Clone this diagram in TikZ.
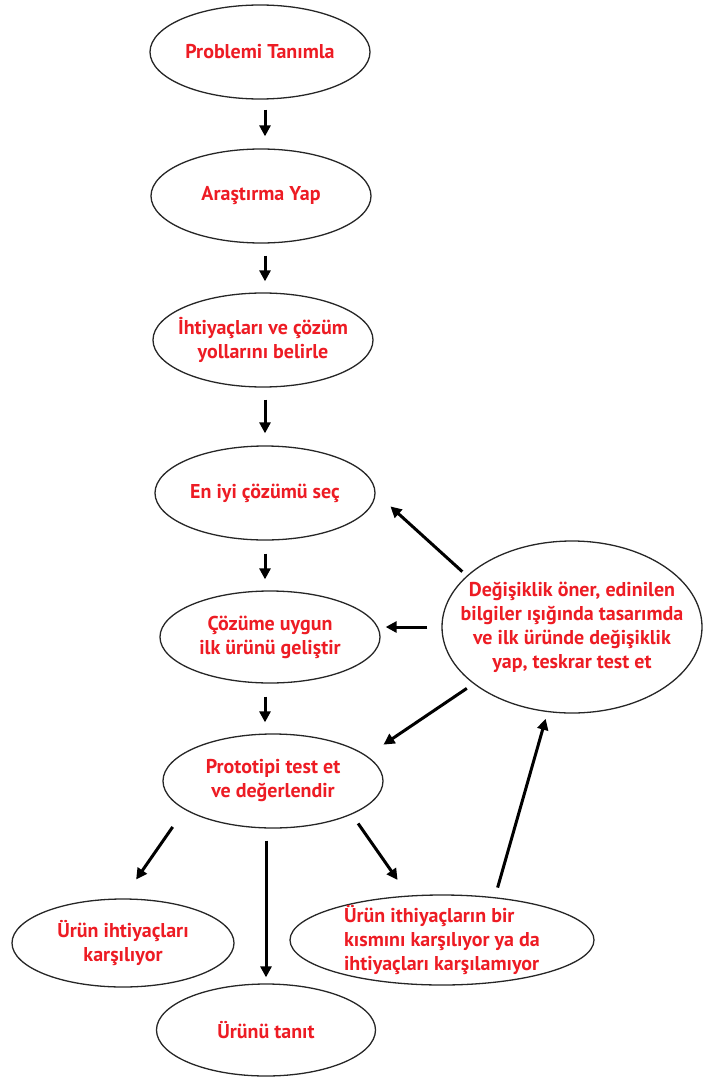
\documentclass[tikz,border=0pt]{standalone}
\usepackage{fontspec}
\setmainfont{PT Sans}
\usetikzlibrary{shapes.geometric,arrows.meta}
\definecolor{txtred}{RGB}{237,28,36}
\tikzset{
  bub/.style={draw=black!85, line width=1.3pt, ellipse, inner xsep=-14pt, inner ysep=-8pt,
    minimum width=220pt, minimum height=94pt, text=txtred, align=center,
    font=\fontsize{20}{24}\selectfont\bfseries},
  arr/.style={line width=3pt, -{Triangle[length=11pt,width=11pt]}},
}
\begin{document}
\begin{tikzpicture}[x=1pt,y=-1pt]
\useasboundingbox (0,0) rectangle (707,1078);
\node[bub] (p1) at (260,52) {Problemi Tanımla};
\node[bub] (p2) at (261,196) {Araştırma Yap};
\node[bub] (p3) at (263,340) {İhtiyaçları ve çözüm\\yollarını belirle};
\node[bub] (best) at (265,493) {En iyi çözümü seç};
\node[bub, minimum height=92pt] (coz) at (270,637) {Çözüme uygun\\ilk ürünü geliştir};
\node[bub] (proto) at (273,781) {Prototipi test et\\ve değerlendir};
\node[bub, inner xsep=-28pt, minimum width=260pt, minimum height=172pt] (dg) at (572,627)
  {Değişiklik öner, edinilen\\bilgiler ışığında tasarımda\\ve ilk üründe değişiklik\\yap, teskrar test et};
\node[bub, minimum width=222pt, minimum height=88pt] (uih) at (123,943) {Ürün ihtiyaçları\\karşılıyor};
\node[bub, minimum width=219pt, minimum height=92pt] (tanit) at (266,1030) {Ürünü tanıt};
\node[bub, minimum width=304pt, minimum height=90pt, align=left] (rih) at (442,940)
  {Ürün ithiyaçların bir\\kısmını karşılıyor ya da\\ihtiyaçları karşılamıyor};

\draw[arr, shorten <=10pt, shorten >=12pt] (p1.south -| best.south) -- (p2.north -| best.south);
\draw[arr, shorten <=12pt, shorten >=11pt] (p2.south -| best.south) -- (p3.north -| best.south);
\draw[arr, shorten <=12pt, shorten >=12pt] (p3.south -| best.south) -- (best.north);
\draw[arr, shorten <=13pt, shorten >=11pt] (best.south) -- (coz.north -| best.south);
\draw[arr, shorten <=13pt, shorten >=11pt] (coz.south -| best.south) -- (proto.north -| best.south);

\draw[arr, shorten <=6pt, shorten >=20pt] (dg.154) -- (best.east);
\draw[arr, shorten <=14pt, shorten >=5pt] (dg.west) -- (dg.west -| coz.east);
\draw[arr, shorten <=8pt, shorten >=20pt] (dg.210) -- (proto.15);
\draw[arr, shorten <=21pt, shorten >=23pt] (proto.198) -- (uih.north);
\draw[arr, shorten <=12pt, shorten >=6pt] (tanit.north |- proto.south) -- (tanit.north);
\draw[arr, shorten <=11pt, shorten >=19pt] (proto.-23) -- (rih.127);
\draw[arr, shorten <=10pt, shorten >=7pt] (rih.39) -- (dg.254);
\end{tikzpicture}
\end{document}
